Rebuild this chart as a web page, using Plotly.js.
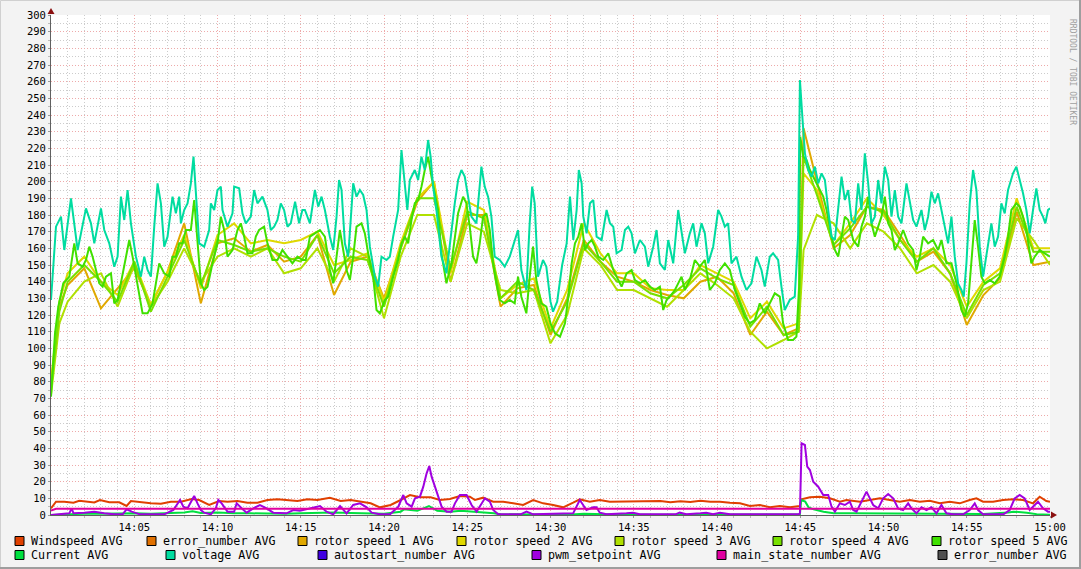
<!DOCTYPE html>
<html>
<head>
<meta charset="utf-8">
<script src="https://cdn.plot.ly/plotly-3.0.1.min.js"></script>
<style>html,body{margin:0;padding:0;background:#f3f3f3;}#chart{width:1081px;height:569px;}</style>
</head>
<body>
<div id="chart"></div>
<script>
// ---------------- data (time in minutes after 14:00) ----------------
const tickMinutes = [5,10,15,20,25,30,35,40,45,50,55,60];
const tickLabels = ['14:05','14:10','14:15','14:20','14:25','14:30','14:35','14:40','14:45','14:50','14:55','15:00'];

const windT = [0,0.3,0.8,1.35,1.7,2.2,2.6,2.94,3.5,4.1,4.54,4.8,5.4,6.0,6.6,7.2,7.8,8.2,8.45,8.9,9.5,10.1,10.6,11.2,11.8,12.4,13.0,13.6,14.2,14.8,15.4,16.0,16.75,17.4,18.0,18.56,19.2,19.76,20.4,21.0,21.56,22.16,22.8,23.36,23.96,24.56,25.16,25.46,25.96,26.56,27.16,27.76,28.36,28.96,29.56,30.16,30.76,31.36,31.76,32.36,32.96,33.56,34.16,34.76,35.36,36.0,36.6,37.2,37.8,38.4,39.0,39.6,40.18,40.78,41.38,41.98,42.58,43.18,43.78,44.38,44.98,45.08,45.58,46.18,46.78,47.38,47.78,48.58,49.18,49.78,50.38,50.98,51.58,52.18,52.78,53.38,53.98,54.58,55.18,55.58,55.98,56.58,57.18,57.78,58.38,58.98,59.38,59.78,60];
const windV = [4,8,8,7.4,8.5,8,7.5,9,7.6,7.6,5.4,8.4,7.6,7,6.8,8,8,9,9.6,9,6,8.4,8,8.4,7.4,7.4,9,9.4,9,8.4,9.4,9,10.4,8.4,9,8,7,4.6,6,9,12,10.6,10.6,9,9.6,11.4,11,9,10.4,8,8,7,6,9,7,6,4.6,7.4,9.4,8,9,8,8,8,8.4,8,8.4,7.6,8.2,7.8,8.6,8,8,7.4,7,5.4,6,4.6,5.4,4.6,5.4,9.4,10.6,11,10,8,9,8,9,10,9,8,9,8,8.6,7,8,7,9,10,8,8,9,9.4,9,7,11,8.4,8];

const errorNumberV = [];   // no visible data in the reference

const rotorT = [0,0.5,1,2,3,4,5,6,7,8,9,10,11,12,13,14,15,16,17,18,19,20,21,22,23,24,25,26,27,28,29,30,31,32,33,34,35,36,37,38,39,40,41,42,43,44,44.9,45.2,46,47,48,49,50,51,52,53,54,55,56,57,58,59,60];
const rotor1V = [78,125,138,148,124,136,148,126,146,175,127,163,166,158,162,152,155,168,132,152,155,130,160,188,200,140,180,180,125,136,138,108,130,165,152,143,140,135,132,130,140,143,133,108,122,108,112,232,200,160,168,185,183,168,152,158,145,114,132,142,182,150,152];
const rotor2V = [80,128,145,155,140,132,152,126,146,168,136,168,175,163,165,163,165,170,150,153,157,128,163,190,200,145,188,183,130,138,142,112,135,175,157,145,145,136,135,135,150,145,140,118,128,112,115,205,195,162,175,190,180,165,155,160,150,125,140,148,190,160,160];
const rotor3V = [72,115,128,140,145,125,150,125,140,160,140,155,160,155,160,145,148,160,140,160,155,118,155,180,180,140,175,170,135,133,135,103,120,160,150,135,135,130,125,135,145,138,130,110,100,105,110,159,180,175,160,175,170,160,145,150,140,118,135,140,178,165,150];
const rotor4V = [76,122,140,150,140,128,152,122,143,165,138,165,162,158,160,155,152,168,145,155,153,125,160,190,190,148,182,178,130,140,135,110,128,163,152,140,140,133,130,138,148,142,138,113,125,108,110,215,192,162,172,185,182,165,152,160,145,120,138,145,185,158,158];

const rotor5T = [0,0.24,0.44,0.74,1.1,1.3,1.4,1.6,1.9,2.1,2.3,2.5,2.7,2.9,3.1,3.3,3.6,3.8,4.0,4.2,4.5,4.7,4.9,5.1,5.3,5.5,5.8,6.1,6.3,6.5,6.8,7.1,7.3,7.5,7.7,7.9,8.1,8.4,8.6,8.8,9.0,9.2,9.4,9.7,10.0,10.2,10.4,10.6,10.9,11.2,11.4,11.6,11.8,12.1,12.3,12.5,12.8,13.0,13.3,13.6,13.9,14.2,14.5,14.8,15.1,15.3,15.55,15.85,16.15,16.45,16.75,16.95,17.15,17.35,17.55,17.75,17.95,18.15,18.35,18.65,18.85,19.05,19.35,19.55,19.75,20.05,20.25,20.55,20.85,21.05,21.25,21.45,21.65,21.85,22.05,22.25,22.45,22.65,22.85,23.05,23.25,23.45,23.75,24.05,24.25,24.45,24.75,24.95,25.15,25.35,25.55,25.75,25.95,26.15,26.35,26.55,26.75,26.95,27.25,27.55,27.85,28.05,28.25,28.55,28.75,28.95,29.15,29.45,29.75,30.0,30.27,30.57,30.87,31.07,31.27,31.47,31.67,31.87,32.07,32.27,32.47,32.67,32.87,33.17,33.47,33.77,34.07,34.27,34.57,34.87,35.07,35.37,35.67,35.97,36.27,36.57,36.77,36.97,37.17,37.47,37.67,37.87,38.07,38.37,38.67,38.97,39.27,39.57,39.87,40.17,40.47,40.77,41.07,41.37,41.67,41.97,42.27,42.57,42.87,43.17,43.47,43.77,43.97,44.27,44.57,44.77,44.93,45.0,45.18,45.38,45.58,45.88,46.18,46.38,46.58,46.88,47.08,47.28,47.48,47.68,47.88,48.18,48.48,48.68,48.88,49.08,49.28,49.48,49.68,49.88,50.08,50.28,50.48,50.68,50.88,51.18,51.48,51.78,51.98,52.18,52.38,52.68,52.98,53.28,53.48,53.78,54.08,54.38,54.68,54.88,55.08,55.28,55.48,55.68,55.88,56.08,56.38,56.68,56.98,57.28,57.48,57.68,57.98,58.18,58.38,58.58,58.88,59.08,59.38,59.68,60];
const rotor5V = [71,109,125,139,143,155,163,151,149,153,161,155,147,139,137,143,145,127,129,139,155,165,155,143,131,121,121,127,139,151,145,143,155,155,163,163,171,171,189,163,139,135,137,151,163,179,171,155,159,171,175,167,157,157,167,171,173,163,153,153,159,155,151,155,153,153,167,169,171,167,147,139,155,171,159,147,141,155,173,175,169,157,143,123,121,129,131,143,153,163,167,163,177,187,189,197,207,215,203,193,183,157,139,151,167,181,191,187,173,155,151,163,179,181,171,151,139,129,127,129,127,143,131,121,143,161,141,127,125,115,109,107,115,131,151,163,167,175,159,163,165,161,155,153,157,147,141,137,145,147,141,139,141,137,135,137,123,129,131,135,139,143,135,141,153,149,153,135,139,147,151,147,135,127,119,115,117,127,121,127,133,131,115,105,105,107,137,227,215,213,207,201,195,191,183,167,159,155,167,179,177,165,161,173,179,191,175,167,173,179,191,175,171,159,163,171,163,159,147,155,167,163,165,159,165,151,151,139,123,119,127,155,177,161,143,139,141,139,143,155,167,183,187,185,179,171,151,155,159,157,155];

const currentT = [0,1,2,3,4,5,6,7,8,8.5,9,10,11,12,13,14,15,16,17,18,19,20,21,21.2,22,22.7,23.2,24,24.6,25.5,26,26.6,27,28,30,31,32,33,34,36,38,40,42,44,44.98,45.05,45.3,45.5,45.8,46.4,47,48,50,52,54,56,57.5,57.8,58.6,59.2,60];
const currentV = [0,0.5,0.8,0.8,1,1,0.8,1,1.5,2.2,1.2,1.5,1,1,0.8,0.8,1,1.2,1.5,1.2,1,0.8,2,3.4,2.5,5.4,2.5,2,2.6,2,1.8,1,0.4,0.3,0.2,0.2,0.8,0.5,0.3,0.2,0.2,0.3,0.2,0.2,0.3,9,8,4.6,3.4,2,1,1,0.8,0.6,0.5,0.6,1.5,2,1.4,0.5,0.2];

const voltT = [0,0.14,0.3,0.6,0.8,1.2,1.4,1.6,1.8,2.1,2.4,2.6,3.0,3.2,3.5,3.8,4.0,4.2,4.4,4.6,4.8,5.1,5.4,5.6,5.8,6.0,6.2,6.4,6.6,6.8,7.0,7.3,7.5,7.7,7.8,8.0,8.2,8.4,8.56,8.7,8.9,9.2,9.5,9.6,9.8,10.0,10.2,10.3,10.6,10.9,11.0,11.3,11.5,11.7,12.0,12.2,12.4,12.7,13.0,13.2,13.4,13.6,13.8,14.0,14.2,14.4,14.66,14.9,15.1,15.25,15.55,15.85,16.05,16.25,16.45,16.75,16.95,17.15,17.3,17.45,17.65,17.85,18.05,18.15,18.35,18.55,18.75,18.95,19.15,19.45,19.65,19.85,20.15,20.35,20.55,20.85,21.05,21.2,21.4,21.55,21.85,22.05,22.25,22.45,22.65,22.8,22.95,23.15,23.45,23.75,24.05,24.25,24.45,24.65,24.85,25.05,25.25,25.55,25.85,26.05,26.25,26.45,26.65,26.95,27.25,27.55,27.85,28.05,28.25,28.55,28.75,28.9,29.05,29.25,29.55,29.75,30.0,30.15,30.4,30.7,30.97,31.17,31.37,31.57,31.7,31.87,31.97,32.17,32.37,32.57,32.77,33.07,33.37,33.57,33.77,33.97,34.27,34.47,34.67,34.87,35.07,35.37,35.67,35.87,36.17,36.37,36.57,36.87,37.07,37.37,37.67,37.87,38.07,38.37,38.57,38.77,39.07,39.27,39.47,39.77,40.07,40.27,40.47,40.67,40.87,41.17,41.47,41.77,42.07,42.37,42.67,42.87,43.17,43.37,43.67,43.87,44.07,44.37,44.67,44.87,44.98,45.14,45.28,45.48,45.68,45.88,46.08,46.28,46.48,46.68,46.88,47.08,47.28,47.48,47.68,47.88,48.08,48.28,48.48,48.68,48.88,49.08,49.28,49.48,49.68,49.88,50.08,50.28,50.48,50.68,50.88,51.08,51.38,51.58,51.78,51.98,52.28,52.48,52.68,52.88,53.08,53.28,53.48,53.68,53.88,54.08,54.28,54.48,54.68,54.82,54.98,55.18,55.38,55.58,55.78,55.98,56.18,56.48,56.68,56.88,57.08,57.28,57.48,57.78,57.98,58.18,58.38,58.58,58.78,58.98,59.18,59.38,59.58,59.72,59.88,60];
const voltV = [129,153,173,179,159,190,173,159,169,184,175,163,184,171,163,149,155,191,177,195,175,155,143,155,147,143,173,199,187,161,167,191,181,191,175,183,187,199,215,195,163,161,171,187,183,195,197,183,173,181,197,196,181,175,179,195,187,191,183,171,173,177,187,183,173,175,188,175,183,183,175,195,185,191,183,167,159,179,201,195,163,155,183,199,191,195,192,183,161,143,137,155,153,155,167,183,219,203,183,201,207,201,215,207,225,215,197,183,155,145,171,187,201,207,203,191,179,175,209,197,191,179,155,153,149,155,165,171,147,135,175,197,187,143,153,149,128,122,128,150,163,191,165,183,207,199,179,169,187,189,167,165,183,175,173,157,159,171,173,169,157,165,161,149,161,171,151,147,165,151,183,171,157,169,175,161,175,169,151,161,183,179,173,175,151,155,143,135,139,155,147,137,155,157,153,137,123,129,131,167,261,237,217,207,203,209,199,205,201,183,167,165,183,203,189,195,177,175,199,183,217,199,175,179,201,187,209,201,179,195,179,175,199,187,177,173,183,171,179,194,187,193,183,173,163,179,155,139,135,131,151,187,207,195,161,143,155,175,161,167,187,181,195,205,209,201,193,183,169,183,196,183,179,175,183,184];

const autostartV = [];   // no visible data in the reference

const pwmT = [0,0.4,0.8,1.1,1.24,1.35,2.0,2.6,3.2,3.8,4.3,4.54,4.85,5.35,6.8,7.0,7.35,7.75,7.95,8.2,8.45,8.6,8.8,9.0,9.2,9.6,9.9,10.05,10.25,10.6,11.0,11.15,11.45,11.75,12.15,12.55,12.95,13.35,14.15,14.55,14.95,15.35,15.76,16.16,16.55,16.95,17.36,17.75,18.15,18.56,18.96,19.26,19.76,20.36,20.86,21.16,21.36,21.66,21.86,22.16,22.36,22.56,22.72,22.86,23.06,23.26,23.46,23.76,24.06,24.26,24.56,24.96,25.26,25.56,25.86,26.06,26.36,26.56,26.86,28.2,28.56,28.96,31.36,31.56,31.76,31.96,32.16,32.56,32.76,32.96,33.36,34.56,34.96,35.36,37.5,37.76,38.16,39.0,39.36,39.76,40.18,40.78,44.9,44.98,45.08,45.28,45.42,45.58,45.78,46.08,46.38,46.68,46.88,47.08,47.38,47.68,47.98,48.18,48.38,48.68,48.98,49.18,49.38,49.68,49.98,50.28,50.58,50.88,51.18,51.48,51.68,51.98,52.28,52.58,52.88,53.18,53.48,53.78,54.18,54.78,55.18,55.48,55.68,55.98,57.2,57.58,57.88,58.18,58.48,58.78,59.08,59.28,59.58,59.88,60];
const pwmV = [0,0.4,1,1,4,1,1.4,2,1,0.4,0.4,3.4,2,0.4,0.4,1.4,3,9,5,4,9,11.4,7,3,1.4,0.4,4,9,7,2,2,7,4,1.4,4,6,4,1.4,1,3,2.6,3.4,4.6,5.4,2,0.4,5.4,1,6,7,4.6,1.4,0.4,0.4,5,12,7,5,10,11,17,25,29.4,23,17,11,5,2,2,7,12,12,6,2,7,10,8,3,0.4,0.4,2,0.4,1,5,9,6,3,4.6,4.6,1.4,0.4,1,1.4,0.4,0.4,1.4,0.4,1,1.4,0.4,1.4,0.4,0.4,1,43,42,29,27,20,17,12,12,5,2,7,6,8,3,2,8,14,10,6,4,10,12.6,10,4,3,7,4,1,4.6,3,4.6,1,6,1,0.4,0.4,3,7,3,0.4,0.4,3,10,12,10,3,6,8,4,2,2];

const mainStateT = [0,0.3,60];
const mainStateV = [2.6,3.7,3.7];

const errorNumber2V = [];  // no visible data in the reference

// ---------------- styles ----------------
const C = {
  wind:'#e04000', err:'#e07000', r1:'#e0a800', r2:'#e0d800', r3:'#b0e000', r4:'#78e000', r5:'#40e000',
  cur:'#00e040', volt:'#00dca0', auto:'#4000e0', pwm:'#a000e0', ms:'#e000a0', err2:'#505050'
};
const legendNames = [
  ['Windspeed AVG','error_number AVG','rotor speed 1 AVG','rotor speed 2 AVG','rotor speed 3 AVG','rotor speed 4 AVG','rotor speed 5 AVG'],
  ['Current AVG','voltage AVG','autostart_number AVG','pwm_setpoint AVG','main_state_number AVG','error_number AVG']
];
const legendColors = [
  [C.wind,C.err,C.r1,C.r2,C.r3,C.r4,C.r5],
  [C.cur,C.volt,C.auto,C.pwm,C.ms,C.err2]
];
const legendX = [[15,147,298,457,615,773,932],[15,166,318,532,717,938]];
const legendY = [541,555];

// pixel -> paper helpers (plot area: x 51..1050, y 15..515)
const PL=51, PR=1050, PT=15, PB=515;
const px = X => (X-PL)/(PR-PL);
const py = Y => (PB-Y)/(PB-PT);

function line(x,y,color){
  return {x:x,y:y,type:'scatter',mode:'lines',line:{color:color,width:2},hoverinfo:'skip'};
}
const traces = [
  line(windT,windV,C.wind),
  line(rotorT,rotor1V,C.r1),
  line(rotorT,rotor2V,C.r2),
  line(rotorT,rotor3V,C.r3),
  line(rotorT,rotor4V,C.r4),
  line(rotor5T,rotor5V,C.r5),
  line(currentT,currentV,C.cur),
  line(voltT,voltV,C.volt),
  line(pwmT,pwmV,C.pwm),
  line(mainStateT,mainStateV,C.ms)
];

const mono = 'DejaVu Sans Mono, Liberation Mono, monospace';
const shapes = [];
const annotations = [];
legendNames.forEach((row,ri)=>{
  row.forEach((name,ci)=>{
    const sx = legendX[ri][ci], cy = legendY[ri];
    shapes.push({type:'rect',xref:'paper',yref:'paper',x0:px(sx),x1:px(sx+9),y0:py(cy+4.5),y1:py(cy-4.5),
      fillcolor:legendColors[ri][ci],line:{color:'#000',width:1}});
    annotations.push({xref:'paper',yref:'paper',x:px(sx+14),y:py(cy),xanchor:'left',yanchor:'middle',
      text:name,showarrow:false,font:{family:mono,size:11.7,color:'#000'}});
  });
});
// axis arrows
shapes.push({type:'path',xref:'paper',yref:'paper',
  path:`M ${px(51)} ${py(8)} L ${px(47.5)} ${py(14)} L ${px(54.5)} ${py(14)} Z`,fillcolor:'#8b1010',line:{width:0}});
shapes.push({type:'path',xref:'paper',yref:'paper',
  path:`M ${px(1057)} ${py(515)} L ${px(1051)} ${py(511.5)} L ${px(1051)} ${py(518.5)} Z`,fillcolor:'#8b1010',line:{width:0}});
// outer border
shapes.push({type:'line',xref:'paper',yref:'paper',x0:px(0.5),x1:px(1080.5),y0:py(0.5),y1:py(0.5),line:{color:'#d0d0d0',width:1}});
shapes.push({type:'line',xref:'paper',yref:'paper',x0:px(0.5),x1:px(0.5),y0:py(0.5),y1:py(568.5),line:{color:'#d0d0d0',width:1}});
shapes.push({type:'line',xref:'paper',yref:'paper',x0:px(1080),x1:px(1080),y0:py(0),y1:py(569),line:{color:'#9e9e9e',width:2}});
shapes.push({type:'line',xref:'paper',yref:'paper',x0:px(0),x1:px(1081),y0:py(568),y1:py(568),line:{color:'#9e9e9e',width:2}});

annotations.push({xref:'paper',yref:'paper',x:px(1073),y:py(17),xanchor:'center',yanchor:'top',textangle:90,
  text:'RRDTOOL / TOBI OETIKER',showarrow:false,font:{family:mono,size:8,color:'#a0a0a0'}});

// minor grid positions that are not on a major line
const minorX = [], minorY = [];
for (let m = 1; m < 60; m++) if (m % 5) minorX.push(m);
for (let v = 5; v < 300; v += 10) minorY.push(v);

const major = '#eeaaaa', minorc = '#cccccc';
const layout = {
  width:1081,height:569,
  margin:{l:PL,r:1081-PR,t:PT,b:569-PB,pad:0},
  paper_bgcolor:'#f3f3f3',plot_bgcolor:'#ffffff',
  showlegend:false,
  xaxis:{range:[0,60],tickmode:'array',tickvals:tickMinutes,ticktext:tickLabels,
    showgrid:true,gridcolor:major,griddash:'1px,2px',gridwidth:1,zeroline:false,
    showline:true,linecolor:'#606060',linewidth:1,ticks:'outside',ticklen:2,tickcolor:'#999',
    tickfont:{family:mono,size:10.5,color:'#000'},
    minor:{tickmode:'array',tickvals:minorX,showgrid:true,gridcolor:minorc,griddash:'1px,2px',ticks:'outside',ticklen:2,tickcolor:'#bbb'},
    fixedrange:true},
  yaxis:{range:[0,300],tickmode:'linear',tick0:0,dtick:10,
    showgrid:true,gridcolor:major,griddash:'1px,2px',gridwidth:1,zeroline:false,
    showline:true,linecolor:'#606060',linewidth:1,ticks:'outside',ticklen:2,tickcolor:'#999',
    tickfont:{family:mono,size:10.5,color:'#000'},
    minor:{tickmode:'array',tickvals:minorY,showgrid:true,gridcolor:minorc,griddash:'1px,2px',ticks:'outside',ticklen:2,tickcolor:'#bbb'},
    fixedrange:true},
  shapes:shapes,
  annotations:annotations,
  hovermode:false
};
Plotly.newPlot('chart',traces,layout,{displayModeBar:false,staticPlot:true});
</script>
</body>
</html>
